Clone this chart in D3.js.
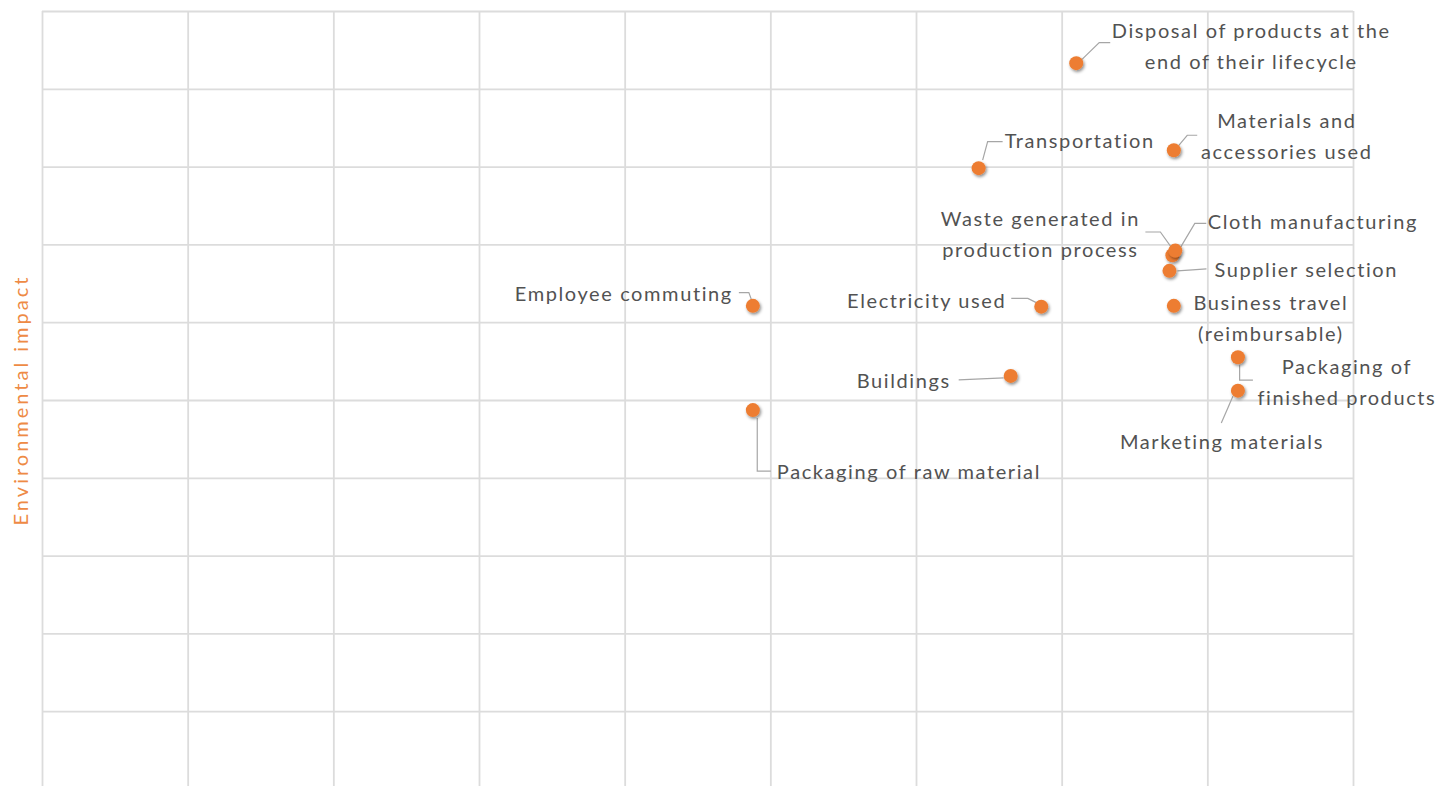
<!DOCTYPE html>
<html>
<head>
<meta charset="utf-8">
<script src="https://cdn.jsdelivr.net/npm/d3@7"></script>
<style>
  html, body { margin: 0; padding: 0; background: #fff; }
  svg { display: block; }
  .grid line { stroke: #dcdcdc; stroke-width: 1.8; }
  .grid path { display: none; }
  .label { font-family: Lato, "Open Sans", sans-serif; font-size: 20px; fill: #525252; letter-spacing: 1.6px; }
  .leader { fill: none; stroke: #a6a6a6; stroke-width: 1.2; }
  .ytitle { font-family: Lato, "Open Sans", sans-serif; font-size: 20px; fill: #EE8A45; letter-spacing: 3px; }
</style>
</head>
<body>
<svg id="chart" width="1440" height="786"></svg>
<script>
// Emission sources plotted by score (x) against environmental impact (y)
const sources = [
  "Disposal of products at the end of their lifecycle",
  "Transportation",
  "Materials and accessories used",
  "Waste generated in production process",
  "Cloth manufacturing",
  "Supplier selection",
  "Employee commuting",
  "Electricity used",
  "Business travel (reimbursable)",
  "Buildings",
  "Packaging of finished products",
  "Marketing materials",
  "Packaging of raw material"
];
const scoreValues  = [7.10, 6.43, 7.77, 7.76, 7.78, 7.74, 4.88, 6.86, 7.77, 6.65, 8.21, 8.21, 4.88];
const impactValues = [9.33, 7.98, 8.21, 6.86, 6.92, 6.66, 6.21, 6.20, 6.21, 5.31, 5.55, 5.12, 4.87];

// Text lines of each data label
const labelLines = [
  ["Disposal of products at the", "end of their lifecycle"],
  ["Transportation"],
  ["Materials and", "accessories used"],
  ["Waste generated in", "production process"],
  ["Cloth manufacturing"],
  ["Supplier selection"],
  ["Employee commuting"],
  ["Electricity used"],
  ["Business travel", "(reimbursable)"],
  ["Buildings"],
  ["Packaging of", "finished products"],
  ["Marketing materials"],
  ["Packaging of raw material"]
];

const xTickValues = [0, 1, 2, 3, 4, 5, 6, 7, 8, 9];
const yTickValues = [0, 1, 2, 3, 4, 5, 6, 7, 8, 9, 10];
const yTitle = "Environmental impact";

// Label placement relative to each marker: text offset, anchor and leader line path
const labelPlacement = [
  { dx: 175, dy: -33, anchor: "middle", leader: [[5, -3], [23, -20.6], [34, -20.6]] },
  { dx: 26, dy: -28, anchor: "start", leader: [[4, -8], [9, -26.6], [24, -26.6]] },
  { dx: 113, dy: -30, anchor: "middle", leader: [[5, -5], [13.4, -15], [23.4, -15]] },
  { dx: -132, dy: -37, anchor: "middle", leader: [[-27, -23.3], [-12, -23.3], [-1, -8]] },
  { dx: 32.5, dy: -29.5, anchor: "start", leader: [[4.5, -2], [19.5, -27.2], [31, -27.2]] },
  { dx: 45, dy: -2, anchor: "start", leader: [[8, 0], [23, -1], [37, -2]] },
  { dx: -20, dy: -13, anchor: "end", leader: [[-14, -13.3], [-4, -13.3], [-0.6, -4]] },
  { dx: -35, dy: -6.5, anchor: "end", leader: [[-30, -8.2], [-13.4, -8.2], [-4, -3.5]] },
  { dx: 97, dy: -3.5, anchor: "middle", leader: null },
  { dx: -60, dy: 4, anchor: "end", leader: [[-52, 4], [-7, 2]] },
  { dx: 109, dy: 9, anchor: "middle", leader: [[1.7, 8], [1.7, 23], [15, 23]] },
  { dx: -16, dy: 50, anchor: "middle", leader: [[-5, 5.7], [-16.6, 32.3]] },
  { dx: 24, dy: 61, anchor: "start", leader: [[4.4, 8], [4.4, 61], [18, 61]] }
];

const svg = d3.select("#chart");
const margin = { left: 42, top: 11 };
const plotW = 1311, plotH = 778;
const lineGap = 31;

const x = d3.scaleLinear().domain([0, 9]).range([0, plotW]);
const y = d3.scaleLinear().domain([0, 10]).range([plotH, 0]);

const defs = svg.append("defs");
const shadow = defs.append("filter").attr("id", "dotShadow")
  .attr("x", "-50%").attr("y", "-50%").attr("width", "200%").attr("height", "200%");
shadow.append("feDropShadow")
  .attr("dx", 1.2).attr("dy", 1.8).attr("stdDeviation", 1.4)
  .attr("flood-color", "#000").attr("flood-opacity", 0.45);

const g = svg.append("g").attr("transform", `translate(${margin.left},${margin.top})`);

// Gridlines
g.append("g").attr("class", "grid")
  .attr("transform", `translate(0,${plotH})`)
  .call(d3.axisBottom(x).tickValues(xTickValues).tickSize(-plotH).tickFormat(""));
g.append("g").attr("class", "grid")
  .call(d3.axisLeft(y).tickValues(yTickValues).tickSize(-plotW).tickFormat(""));

// Y axis title
svg.append("text").attr("class", "ytitle")
  .attr("transform", `translate(28,${margin.top + plotH / 2}) rotate(-90)`)
  .attr("text-anchor", "middle")
  .text(yTitle);

const pts = sources.map((name, i) => ({
  name,
  px: x(scoreValues[i]),
  py: y(impactValues[i]),
  lines: labelLines[i],
  place: labelPlacement[i]
}));

// Leader lines
const line = d3.line();
g.selectAll("path.leader")
  .data(pts.filter(d => d.place.leader))
  .join("path")
  .attr("class", "leader")
  .attr("d", d => line(d.place.leader.map(([a, b]) => [d.px + a, d.py + b])));

// Markers
g.selectAll("circle.dot")
  .data(pts)
  .join("circle")
  .attr("class", "dot")
  .attr("cx", d => d.px)
  .attr("cy", d => d.py)
  .attr("r", 7)
  .attr("fill", "#ED7D31")
  .attr("filter", "url(#dotShadow)");

// Data labels
const labels = g.selectAll("text.label")
  .data(pts)
  .join("text")
  .attr("class", "label")
  .attr("text-anchor", d => d.place.anchor)
  .attr("dominant-baseline", "central");
labels.selectAll("tspan")
  .data(d => d.lines.map((t, k) => ({ t, k, d })))
  .join("tspan")
  .attr("x", o => o.d.px + o.d.place.dx)
  .attr("y", o => o.d.py + o.d.place.dy + o.k * lineGap)
  .text(o => o.t);
</script>
</body>
</html>
